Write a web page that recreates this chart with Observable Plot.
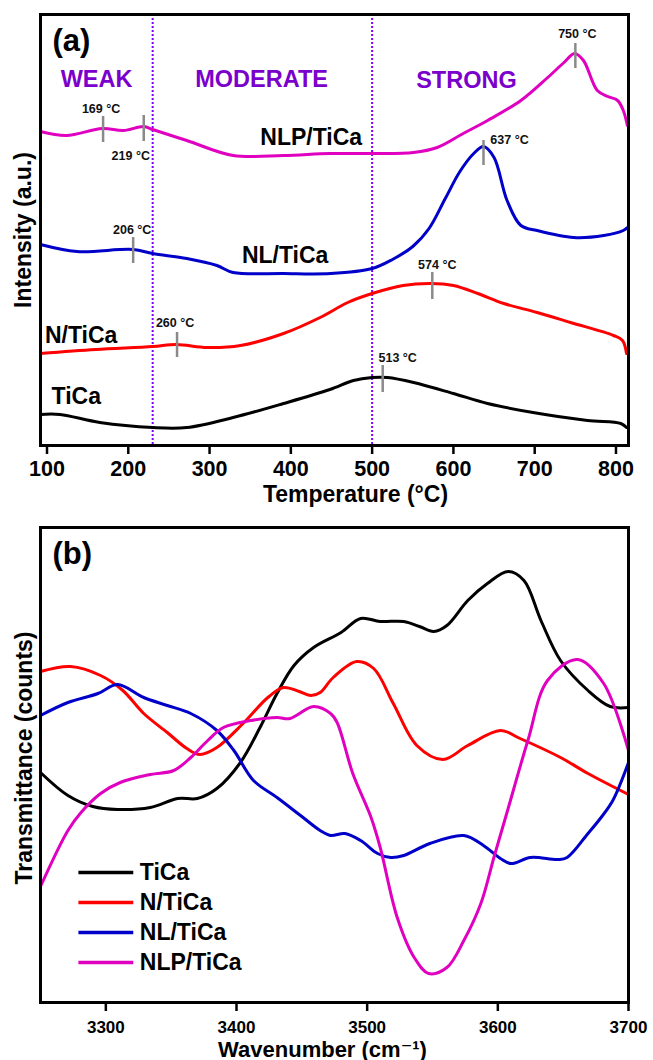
<!DOCTYPE html>
<html>
<head>
<meta charset="utf-8">
<script src="https://cdn.jsdelivr.net/npm/d3@7"></script>
<script src="https://cdn.jsdelivr.net/npm/@observablehq/plot@0.6"></script>
<style>
  html, body { margin: 0; padding: 0; background: #fff; }
  #chart svg { display: block; }
</style>
</head>
<body>
<div id="chart"></div>
<script>
// ---------- shared ----------
const seriesNames = ["TiCa", "N/TiCa", "NL/TiCa", "NLP/TiCa"];
const seriesColors = ["#000000", "#ff0000", "#0000c8", "#e000c0"];

// ---------- panel (a): NH3-TPD, Temperature (°C) vs Intensity (a.u., offset) ----------
const tempTicks = [100, 200, 300, 400, 500, 600, 700, 800];
const zoneBounds = [230, 500];
const zoneNames = ["WEAK", "MODERATE", "STRONG"];
const zoneLabelT = [161, 364, 616];
const zoneLabelV = [366, 366, 365];

const tpdTiCa = [[92,31],[116,31],[165,23],[230,18],[272,18],[329,28],[391,42],[448,56],[477,65],[500,68],[519,68],[551,63],[600,52],[642,42],[698,33],[765,25],[806,22],[813,18]];
const tpdN = [[92,92],[160,96],[230,99],[259,101],[297,98],[338,100],[391,112],[436,128],[470,143],[500,152],[538,160],[572,162],[600,160],[630,152],[662,142],[703,133],[744,123],[797,110],[808,105],[813,92]];
const tpdNL = [[92,201],[137,194],[206,196],[230,192],[272,187],[309,180],[329,173],[391,172],[449,172],[500,177],[525,186],[550,199],[570,217],[590,247],[608,274],[625,292],[637,299],[650,288],[666,245],[683,220],[703,215],[748,208],[785,210],[809,215],[814,218]];
const tpdNLP = [[92,314],[124,310],[168,317],[194,315],[219,319],[230,316],[272,305],[329,290],[391,290],[448,292],[500,292],[551,293],[580,298],[612,312],[642,325],[683,345],[716,368],[736,383],[749,392],[760,385],[777,355],[790,349],[802,345],[809,335],[814,320]];
const tpdSeries = [tpdTiCa, tpdN, tpdNL, tpdNLP];

const tpdLabelT = [136, 142, 393, 425];
const tpdLabelV = [49, 110, 190, 308];

const peakT      = [169, 219, 206, 260, 574, 513, 637, 750];
const peakSeries = ["NLP/TiCa","NLP/TiCa","NL/TiCa","N/TiCa","N/TiCa","TiCa","NL/TiCa","NLP/TiCa"];
const peakLow    = [303, 304, 182, 88, 146, 53, 280, 377];
const peakHigh   = [329, 330, 208, 113, 173, 80, 305, 402];

// ---------- panel (b): FTIR, Wavenumber (cm-1) vs Transmittance (counts) ----------
const waveTicks = [3300, 3400, 3500, 3600, 3700];
const ftTiCa = [[3250,230],[3271,207],[3290,196],[3309,193],[3334,195],[3355,204],[3370,204],[3385,214],[3403,240],[3418,275],[3431,309],[3444,337],[3459,355],[3480,370],[3495,384],[3510,381],[3528,381],[3540,376],[3551,371],[3561,377],[3577,402],[3592,419],[3608,431],[3620,422],[3633,382],[3648,342],[3669,312],[3686,296],[3700,295]];
const ftN = [[3250,331],[3273,336],[3296,327],[3313,312],[3329,289],[3347,270],[3362,254],[3372,248],[3385,255],[3405,279],[3424,305],[3436,315],[3448,311],[3457,307],[3464,310],[3474,325],[3492,341],[3505,334],[3520,299],[3538,257],[3558,243],[3577,257],[3602,272],[3617,264],[3648,245],[3669,229],[3700,208]];
const ftNL = [[3250,287],[3271,300],[3294,309],[3309,318],[3329,305],[3347,297],[3365,289],[3385,272],[3398,252],[3413,222],[3431,205],[3449,187],[3464,172],[3472,167],[3483,169],[3495,162],[3508,149],[3518,145],[3528,147],[3548,159],[3574,167],[3589,157],[3602,144],[3610,139],[3625,145],[3646,143],[3653,145],[3669,169],[3679,185],[3688,202],[3700,240]];
const ftNLP = [[3250,116],[3271,172],[3281,190],[3296,209],[3311,220],[3334,228],[3352,232],[3365,245],[3378,262],[3390,275],[3411,282],[3431,285],[3441,284],[3459,296],[3472,289],[3477,280],[3489,229],[3503,185],[3510,155],[3523,85],[3536,45],[3547,29],[3561,35],[3574,62],[3587,99],[3597,145],[3607,190],[3623,262],[3638,322],[3661,343],[3681,319],[3700,252]];
const ftSeries = [ftTiCa, ftN, ftNL, ftNLP];

// ---------- build tables ----------
const font = "'Liberation Sans', Arial, Helvetica, 'DejaVu Sans', sans-serif";
const zonePurple = "#7a00cc";
const zoneLine = "#8000ff";

const tpdRows = seriesNames.flatMap((s, i) => tpdSeries[i].map(([t, v]) => ({series: s, t, v})));
const tpdLabels = seriesNames.map((s, i) => ({name: s, t: tpdLabelT[i], v: tpdLabelV[i]}));
const zoneRows = zoneNames.map((z, i) => ({name: z, t: zoneLabelT[i], v: zoneLabelV[i]}));
const peakRows = peakT.map((t, i) => ({t, series: peakSeries[i], lo: peakLow[i], hi: peakHigh[i]}));
// label placement relative to the peak tick (end of tick, px offsets)
const peakLabelPlace = {169: ["hi", -2, -8], 219: ["lo", -13, 14], 206: ["hi", -1, -8], 260: ["hi", -2, -10],
                        574: ["hi", 5, -8], 513: ["hi", 15, -8], 637: ["hi", 26, -1], 750: ["hi", 2, -10]};

const ftRows = seriesNames.flatMap((s, i) => ftSeries[i].map(([w, v]) => ({series: s, w, v})));

const chartA = Plot.plot({
  width: 653, height: 517,
  marginLeft: 40, marginRight: 25, marginTop: 14, marginBottom: 72,
  style: {fontFamily: font, color: "#000", background: "#fff", overflow: "visible"},
  x: {domain: [92, 815.4]},
  y: {domain: [0, 431], axis: null},
  color: {domain: seriesNames, range: seriesColors},
  marks: [
    Plot.ruleX(zoneBounds, {stroke: zoneLine, strokeWidth: 2, strokeDasharray: "2,2"}),
    Plot.line(tpdRows, {x: "t", y: "v", z: "series", stroke: "series", strokeWidth: 3, curve: "catmull-rom"}),
    Plot.ruleX(peakRows, {x: "t", y1: "lo", y2: "hi", stroke: "#8a8a8a", strokeWidth: 2.5}),
    ...peakRows.map(p => {
      const [end, dx, dy] = peakLabelPlace[p.t];
      return Plot.text([p], {x: "t", y: end, text: d => `${d.t} °C`, dx, dy,
        fontSize: 12.5, fontWeight: "bold", fill: "#111"});
    }),
    Plot.text(tpdLabels, {x: "t", y: "v", text: "name", fontSize: 23, fontWeight: "bold"}),
    Plot.text(zoneRows, {x: "t", y: "v", text: "name", fontSize: 23.5, fontWeight: "bold", fill: zonePurple}),
    Plot.text(["(a)"], {text: d => d, frameAnchor: "top-left", textAnchor: "start", lineAnchor: "middle",
      dx: 12, dy: 27, fontSize: 31, fontWeight: "bold"}),
    Plot.text(["Intensity (a.u.)"], {text: d => d, frameAnchor: "left", textAnchor: "middle", lineAnchor: "middle",
      rotate: -90, dx: -17, fontSize: 23, fontWeight: "bold"}),
    Plot.text(["Temperature (°C)"], {text: d => d, frameAnchor: "bottom", textAnchor: "middle", lineAnchor: "top",
      dx: 21, dy: 40, fontSize: 23, fontWeight: "bold"}),
    Plot.frame({stroke: "#000", strokeWidth: 3}),
    Plot.axisX({ticks: tempTicks, tickFormat: d => String(d), tickSize: 9, tickPadding: 6,
      strokeWidth: 2.5, fontSize: 21.5, fontWeight: "bold", label: null})
  ]
});

const legendRows = seriesNames.map((s, i) => ({series: s, v: 130 - 30 * i}));

const chartB = Plot.plot({
  width: 653, height: 543,
  marginLeft: 40, marginRight: 25, marginTop: 10, marginBottom: 58,
  style: {fontFamily: font, color: "#000", background: "#fff", overflow: "visible"},
  x: {domain: [3250, 3700]},
  y: {domain: [0, 475], axis: null},
  color: {domain: seriesNames, range: seriesColors},
  marks: [
    Plot.line(ftRows, {x: "w", y: "v", z: "series", stroke: "series", strokeWidth: 3, curve: "catmull-rom"}),
    Plot.link(legendRows, {x1: () => 3279, x2: () => 3321, y1: "v", y2: "v", stroke: "series", strokeWidth: 3.5}),
    Plot.text(legendRows, {x: () => 3326, y: "v", text: "series", textAnchor: "start", fontSize: 23, fontWeight: "bold"}),
    Plot.text(["(b)"], {text: d => d, frameAnchor: "top-left", textAnchor: "start", lineAnchor: "middle",
      dx: 12, dy: 27, fontSize: 31, fontWeight: "bold"}),
    Plot.text(["Transmittance (counts)"], {text: d => d, frameAnchor: "left", textAnchor: "middle", lineAnchor: "middle",
      rotate: -90, dx: -16, dy: -7, fontSize: 23, fontWeight: "bold"}),
    Plot.text(["Wavenumber (cm⁻¹)"], {text: d => d, frameAnchor: "bottom", textAnchor: "middle", lineAnchor: "top",
      dx: -12, dy: 39, fontSize: 22, fontWeight: "bold"}),
    Plot.frame({stroke: "#000", strokeWidth: 3}),
    Plot.axisX({ticks: waveTicks, tickFormat: d => String(d), tickSize: 9, tickPadding: 9,
      strokeWidth: 2.5, fontSize: 17, fontWeight: "bold", label: null})
  ]
});

document.getElementById("chart").append(chartA, chartB);
</script>
</body>
</html>
